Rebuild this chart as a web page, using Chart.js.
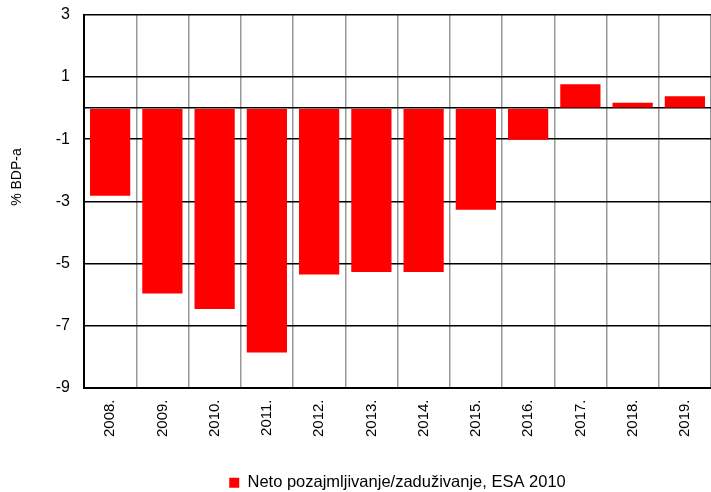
<!DOCTYPE html>
<html lang="hr">
<head>
<meta charset="UTF-8">
<title>Neto pozajmljivanje/zaduživanje</title>
<script src="https://cdn.jsdelivr.net/npm/chart.js"></script>
<style>
  html, body { margin: 0; padding: 0; background: #fff; }
  #wrap { width: 711px; height: 492px; }
</style>
</head>
<body>
<div id="wrap"><canvas id="chart" width="711" height="492"></canvas></div>
<script>
// data
const years = ['2008.', '2009.', '2010.', '2011.', '2012.', '2013.', '2014.', '2015.', '2016.', '2017.', '2018.', '2019.'];
const netLending = [-2.82, -5.97, -6.47, -7.87, -5.36, -5.28, -5.28, -3.27, -1.02, 0.77, 0.17, 0.38];
const seriesName = 'Neto pozajmljivanje/zaduživanje, ESA 2010';
const yTitle = '% BDP-a';
const yMin = -9, yMax = 3;

const fam = 'Liberation Sans, Arial, sans-serif';

// y axis title sits a bit above the middle in the original, so draw it by hand
const yTitlePlugin = {
    id: 'yTitle',
    afterDraw(chart) {
        const a = chart.chartArea;
        const ctx = chart.ctx;
        ctx.save();
        ctx.translate(17, a.top + (a.bottom - a.top) * 0.435);
        ctx.rotate(-Math.PI / 2);
        ctx.font = '14px ' + fam;
        ctx.fillStyle = '#000';
        ctx.textAlign = 'center';
        ctx.textBaseline = 'middle';
        ctx.fillText(yTitle, 0, 0);
        ctx.restore();
    }
};

new Chart(document.getElementById('chart'), {
    type: 'bar',
    data: {
        labels: years,
        datasets: [{
            label: seriesName,
            data: netLending,
            backgroundColor: '#ff0000',
            borderWidth: 0,
            barPercentage: 0.77,
            categoryPercentage: 1.0
        }]
    },
    options: {
        responsive: false,
        animation: false,
        layout: { padding: { top: 15, left: 0, right: 0, bottom: -9 } },
        plugins: {
            legend: {
                position: 'bottom',
                fullSize: false,
                labels: {
                    color: '#000',
                    font: { family: fam, size: 16.5 },
                    boxWidth: 10,
                    boxHeight: 10,
                    padding: 2
                }
            },
            tooltip: { enabled: false }
        },
        scales: {
            x: {
                grid: { color: '#999', lineWidth: 1.5, drawTicks: false, offset: true },
                border: { color: '#000', width: 2 },
                ticks: { color: '#000', font: { family: fam, size: 15 }, minRotation: 90, maxRotation: 90, padding: 12, autoSkip: false },
                afterFit: s => { s.height = 85; s.paddingLeft = 0; s.paddingRight = 0; s.paddingTop = 0; s.paddingBottom = 0; }
            },
            y: {
                min: yMin,
                max: yMax,
                grid: {
                    drawTicks: false,
                    lineWidth: 1.5,
                    // gridlines on the labelled (odd) ticks plus the zero line
                    color: c => (Math.abs(c.tick.value) % 2 === 1 || c.tick.value === 0) ? '#000' : 'rgba(0,0,0,0)'
                },
                border: { color: '#000', width: 2 },
                ticks: {
                    stepSize: 1,
                    color: '#000',
                    font: { family: fam, size: 16 },
                    padding: 14,
                    autoSkip: false,
                    callback: v => (Math.abs(v) % 2 === 1 ? String(v) : '')
                },
                afterFit: s => { s.width = 84; s.paddingTop = 0; s.paddingBottom = 0; }
            }
        }
    },
    plugins: [yTitlePlugin]
});
</script>
</body>
</html>
